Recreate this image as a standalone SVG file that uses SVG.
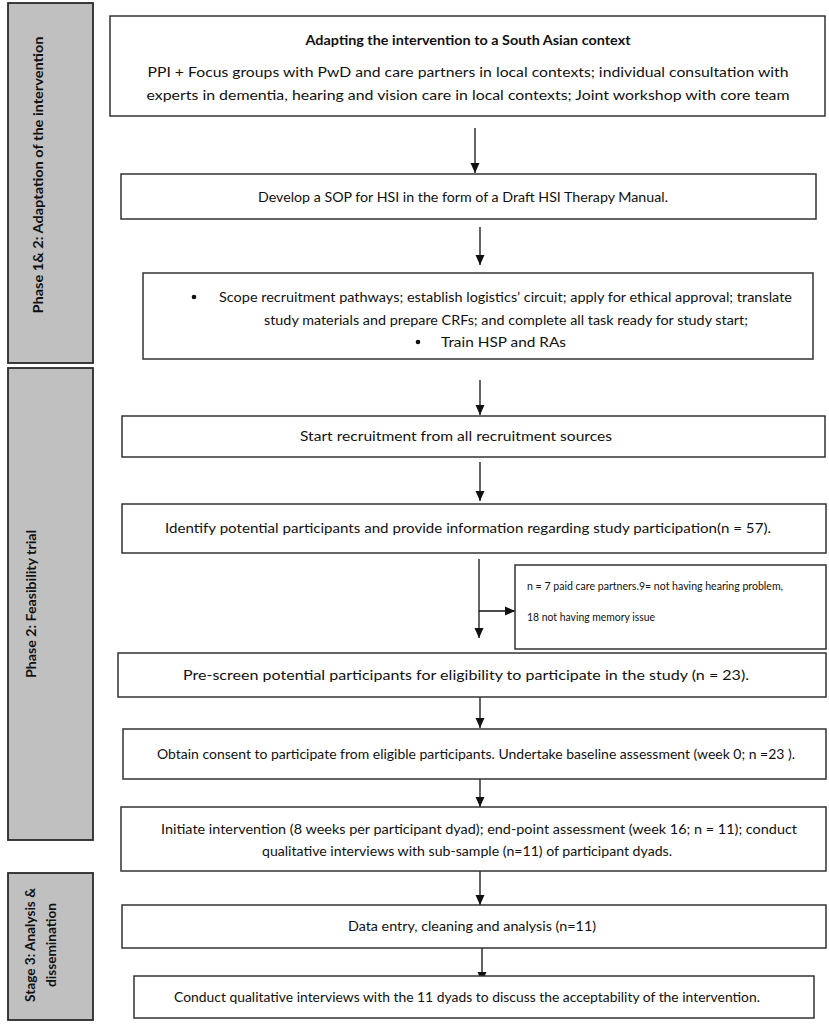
<svg xmlns="http://www.w3.org/2000/svg" width="829" height="1029" viewBox="0 0 829 1029">
<style>
.bg{fill:#ffffff}
.bar{fill:#c0c0c0;stroke:#2a2a2a;stroke-width:1.8}
.box{fill:#ffffff;stroke:#333333;stroke-width:1.5}
.t{font-family:Lato,"Liberation Sans",sans-serif;font-size:13.5px;fill:#111111}
.tc{text-anchor:middle}
.ts{font-size:12px}
.tl{font-size:14px}
.b{font-weight:bold}
.bt{font-family:Lato,"Liberation Sans",sans-serif;font-size:14px;font-weight:bold;fill:#111111;text-anchor:middle}
.ln{stroke:#111111;stroke-width:1.3;fill:none}
</style>
<defs>
<marker id="ah" markerWidth="10" markerHeight="10" refX="10" refY="5" orient="auto" markerUnits="userSpaceOnUse">
<path d="M0,0.5 L10,5 L0,9.5 z" fill="#111111"/>
</marker>
</defs>
<rect class="bg" x="0" y="0" width="829" height="1029"/>

<g id="phase-1-2">
<rect class="bar" x="8" y="3" width="85" height="360"/>
<text class="bt" transform="translate(38,175) rotate(-90)" x="0" y="5" textLength="277" lengthAdjust="spacingAndGlyphs">Phase  1&amp; 2: Adaptation of the intervention</text>
</g>
<g id="phase-2">
<rect class="bar" x="8" y="368" width="85" height="472"/>
<text class="bt" transform="translate(31,604) rotate(-90)" x="0" y="5" textLength="148" lengthAdjust="spacingAndGlyphs">Phase  2: Feasibility trial</text>
</g>
<g id="stage-3">
<rect class="bar" x="8" y="873" width="85" height="147"/>
<text class="bt" transform="translate(30,945) rotate(-90)" x="0" y="5" textLength="114" lengthAdjust="spacingAndGlyphs">Stage 3: Analysis &amp;</text>
<text class="bt" transform="translate(51,945) rotate(-90)" x="0" y="5" textLength="84" lengthAdjust="spacingAndGlyphs">dissemination</text>
</g>

<g id="connectors">
<line class="ln" x1="475" y1="128" x2="475" y2="173" marker-end="url(#ah)"/>
<line class="ln" x1="480" y1="227" x2="480" y2="265" marker-end="url(#ah)"/>
<line class="ln" x1="480" y1="380" x2="480" y2="415" marker-end="url(#ah)"/>
<line class="ln" x1="480" y1="462" x2="480" y2="501" marker-end="url(#ah)"/>
<line class="ln" x1="479" y1="559" x2="479" y2="638" marker-end="url(#ah)"/>
<line class="ln" x1="479" y1="611" x2="515" y2="611" marker-end="url(#ah)"/>
<line class="ln" x1="480" y1="697" x2="480" y2="728" marker-end="url(#ah)"/>
<line class="ln" x1="480" y1="779" x2="480" y2="807" marker-end="url(#ah)"/>
<line class="ln" x1="480" y1="871" x2="480" y2="905" marker-end="url(#ah)"/>
<line class="ln" x1="482" y1="948" x2="482" y2="982" marker-end="url(#ah)"/>
</g>

<g id="adapting">
<rect class="box" x="110" y="16" width="715" height="100"/>
<text class="t tc b" x="468" y="45" textLength="325" lengthAdjust="spacingAndGlyphs">Adapting the intervention to a South Asian context</text>
<text class="t tc" x="468" y="77" textLength="641" lengthAdjust="spacingAndGlyphs">PPI + Focus groups with PwD and care partners in local contexts; individual consultation with</text>
<text class="t tc" x="468" y="100" textLength="643" lengthAdjust="spacingAndGlyphs">experts in dementia, hearing and vision care in local contexts; Joint workshop with core team</text>
</g>

<g id="sop">
<rect class="box" x="121" y="174" width="695" height="45"/>
<text class="t tc" x="463" y="202" textLength="410" lengthAdjust="spacingAndGlyphs">Develop a SOP for HSI in the form of a Draft HSI Therapy Manual.</text>
</g>

<g id="scope">
<rect class="box" x="143" y="273" width="670" height="86"/>
<circle cx="194" cy="297" r="2.3" fill="#111111"/>
<text class="t" x="219" y="302" textLength="573" lengthAdjust="spacingAndGlyphs">Scope recruitment pathways; establish logistics’ circuit; apply for ethical approval; translate</text>
<text class="t" x="264" y="325" textLength="484" lengthAdjust="spacingAndGlyphs">study materials and prepare CRFs; and complete all task ready for study start;</text>
<circle cx="418" cy="342" r="2.3" fill="#111111"/>
<text class="t" x="441" y="347" textLength="125" lengthAdjust="spacingAndGlyphs">Train HSP and RAs</text>
</g>

<g id="start-recruitment">
<rect class="box" x="122" y="416" width="703" height="41"/>
<text class="t tc" x="456" y="441" textLength="312" lengthAdjust="spacingAndGlyphs">Start recruitment from all recruitment sources</text>
</g>

<g id="identify">
<rect class="box" x="122" y="504" width="704" height="49"/>
<text class="t tl tc" x="468" y="533" textLength="606" lengthAdjust="spacingAndGlyphs">Identify potential participants and provide information regarding study participation(n = 57).</text>
</g>

<g id="excluded">
<rect class="box" x="515" y="565" width="311" height="84"/>
<text class="t ts" x="527" y="590" textLength="256" lengthAdjust="spacingAndGlyphs">n = 7 paid care partners.9= not having hearing problem,</text>
<text class="t ts" x="527" y="621" textLength="128" lengthAdjust="spacingAndGlyphs">18 not having memory issue</text>
</g>

<g id="prescreen">
<rect class="box" x="118" y="653" width="708" height="44"/>
<text class="t tl tc" x="466" y="680" textLength="566" lengthAdjust="spacingAndGlyphs">Pre-screen potential participants for eligibility to participate in the study (n = 23).</text>
</g>

<g id="consent">
<rect class="box" x="123" y="729" width="703" height="50"/>
<text class="t tc" x="476" y="759" textLength="638" lengthAdjust="spacingAndGlyphs">Obtain consent to participate from eligible participants. Undertake baseline assessment (week 0; n =23 ).</text>
</g>

<g id="initiate">
<rect class="box" x="121" y="807" width="705" height="64"/>
<text class="t tc" x="479" y="834" textLength="636" lengthAdjust="spacingAndGlyphs">Initiate intervention (8 weeks per participant dyad); end-point assessment (week 16; n = 11); conduct</text>
<text class="t tc" x="467" y="856" textLength="410" lengthAdjust="spacingAndGlyphs">qualitative interviews with sub-sample (n=11) of participant dyads.</text>
</g>

<g id="data-entry">
<rect class="box" x="122" y="905" width="704" height="43"/>
<text class="t tc" x="472" y="931" textLength="248" lengthAdjust="spacingAndGlyphs">Data entry, cleaning and analysis (n=11)</text>
</g>

<g id="qualitative">
<rect class="box" x="134" y="976" width="680" height="42"/>
<text class="t tc" x="467" y="1002" textLength="586" lengthAdjust="spacingAndGlyphs">Conduct qualitative interviews with the 11 dyads to discuss the acceptability of the intervention.</text>
</g>
</svg>
